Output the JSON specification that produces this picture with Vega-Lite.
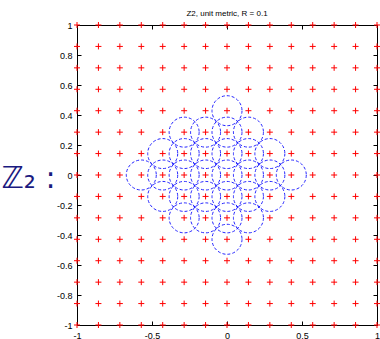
{
  "$schema": "https://vega.github.io/schema/vega-lite/v6.json",
  "width": 300,
  "height": 300,
  "autosize": "none",
  "padding": {"left": 77, "top": 25, "right": 3, "bottom": 14},
  "title": {"text": "Z2, unit metric, R = 0.1", "fontSize": 8, "fontWeight": "normal", "font": "Liberation Sans", "color": "#000000", "offset": 2},
  "config": {
    "view": {"stroke": "#000000", "strokeWidth": 1},
    "axis": {"domainColor": "#000000", "tickColor": "#000000", "labelColor": "#000000", "labelFont": "Liberation Sans", "labelFontSize": 9, "grid": false, "tickSize": -4, "labelExpr": "datum.value + ''"}
  },
  "datasets": {
    "grid": [
      {"x":-1,"y":1},{"x":-0.8571,"y":1},{"x":-0.7143,"y":1},{"x":-0.5714,"y":1},{"x":-0.4286,"y":1},{"x":-0.2857,"y":1},{"x":-0.1429,"y":1},{"x":0,"y":1},{"x":0.1429,"y":1},{"x":0.2857,"y":1},{"x":0.4286,"y":1},{"x":0.5714,"y":1},{"x":0.7143,"y":1},{"x":0.8571,"y":1},{"x":1,"y":1},
      {"x":-1,"y":0.8571},{"x":-0.8571,"y":0.8571},{"x":-0.7143,"y":0.8571},{"x":-0.5714,"y":0.8571},{"x":-0.4286,"y":0.8571},{"x":-0.2857,"y":0.8571},{"x":-0.1429,"y":0.8571},{"x":0,"y":0.8571},{"x":0.1429,"y":0.8571},{"x":0.2857,"y":0.8571},{"x":0.4286,"y":0.8571},{"x":0.5714,"y":0.8571},{"x":0.7143,"y":0.8571},{"x":0.8571,"y":0.8571},{"x":1,"y":0.8571},
      {"x":-1,"y":0.7143},{"x":-0.8571,"y":0.7143},{"x":-0.7143,"y":0.7143},{"x":-0.5714,"y":0.7143},{"x":-0.4286,"y":0.7143},{"x":-0.2857,"y":0.7143},{"x":-0.1429,"y":0.7143},{"x":0,"y":0.7143},{"x":0.1429,"y":0.7143},{"x":0.2857,"y":0.7143},{"x":0.4286,"y":0.7143},{"x":0.5714,"y":0.7143},{"x":0.7143,"y":0.7143},{"x":0.8571,"y":0.7143},{"x":1,"y":0.7143},
      {"x":-1,"y":0.5714},{"x":-0.8571,"y":0.5714},{"x":-0.7143,"y":0.5714},{"x":-0.5714,"y":0.5714},{"x":-0.4286,"y":0.5714},{"x":-0.2857,"y":0.5714},{"x":-0.1429,"y":0.5714},{"x":0,"y":0.5714},{"x":0.1429,"y":0.5714},{"x":0.2857,"y":0.5714},{"x":0.4286,"y":0.5714},{"x":0.5714,"y":0.5714},{"x":0.7143,"y":0.5714},{"x":0.8571,"y":0.5714},{"x":1,"y":0.5714},
      {"x":-1,"y":0.4286},{"x":-0.8571,"y":0.4286},{"x":-0.7143,"y":0.4286},{"x":-0.5714,"y":0.4286},{"x":-0.4286,"y":0.4286},{"x":-0.2857,"y":0.4286},{"x":-0.1429,"y":0.4286},{"x":0,"y":0.4286},{"x":0.1429,"y":0.4286},{"x":0.2857,"y":0.4286},{"x":0.4286,"y":0.4286},{"x":0.5714,"y":0.4286},{"x":0.7143,"y":0.4286},{"x":0.8571,"y":0.4286},{"x":1,"y":0.4286},
      {"x":-1,"y":0.2857},{"x":-0.8571,"y":0.2857},{"x":-0.7143,"y":0.2857},{"x":-0.5714,"y":0.2857},{"x":-0.4286,"y":0.2857},{"x":-0.2857,"y":0.2857},{"x":-0.1429,"y":0.2857},{"x":0,"y":0.2857},{"x":0.1429,"y":0.2857},{"x":0.2857,"y":0.2857},{"x":0.4286,"y":0.2857},{"x":0.5714,"y":0.2857},{"x":0.7143,"y":0.2857},{"x":0.8571,"y":0.2857},{"x":1,"y":0.2857},
      {"x":-1,"y":0.1429},{"x":-0.8571,"y":0.1429},{"x":-0.7143,"y":0.1429},{"x":-0.5714,"y":0.1429},{"x":-0.4286,"y":0.1429},{"x":-0.2857,"y":0.1429},{"x":-0.1429,"y":0.1429},{"x":0,"y":0.1429},{"x":0.1429,"y":0.1429},{"x":0.2857,"y":0.1429},{"x":0.4286,"y":0.1429},{"x":0.5714,"y":0.1429},{"x":0.7143,"y":0.1429},{"x":0.8571,"y":0.1429},{"x":1,"y":0.1429},
      {"x":-1,"y":0},{"x":-0.8571,"y":0},{"x":-0.7143,"y":0},{"x":-0.5714,"y":0},{"x":-0.4286,"y":0},{"x":-0.2857,"y":0},{"x":-0.1429,"y":0},{"x":0,"y":0},{"x":0.1429,"y":0},{"x":0.2857,"y":0},{"x":0.4286,"y":0},{"x":0.5714,"y":0},{"x":0.7143,"y":0},{"x":0.8571,"y":0},{"x":1,"y":0},
      {"x":-1,"y":-0.1429},{"x":-0.8571,"y":-0.1429},{"x":-0.7143,"y":-0.1429},{"x":-0.5714,"y":-0.1429},{"x":-0.4286,"y":-0.1429},{"x":-0.2857,"y":-0.1429},{"x":-0.1429,"y":-0.1429},{"x":0,"y":-0.1429},{"x":0.1429,"y":-0.1429},{"x":0.2857,"y":-0.1429},{"x":0.4286,"y":-0.1429},{"x":0.5714,"y":-0.1429},{"x":0.7143,"y":-0.1429},{"x":0.8571,"y":-0.1429},{"x":1,"y":-0.1429},
      {"x":-1,"y":-0.2857},{"x":-0.8571,"y":-0.2857},{"x":-0.7143,"y":-0.2857},{"x":-0.5714,"y":-0.2857},{"x":-0.4286,"y":-0.2857},{"x":-0.2857,"y":-0.2857},{"x":-0.1429,"y":-0.2857},{"x":0,"y":-0.2857},{"x":0.1429,"y":-0.2857},{"x":0.2857,"y":-0.2857},{"x":0.4286,"y":-0.2857},{"x":0.5714,"y":-0.2857},{"x":0.7143,"y":-0.2857},{"x":0.8571,"y":-0.2857},{"x":1,"y":-0.2857},
      {"x":-1,"y":-0.4286},{"x":-0.8571,"y":-0.4286},{"x":-0.7143,"y":-0.4286},{"x":-0.5714,"y":-0.4286},{"x":-0.4286,"y":-0.4286},{"x":-0.2857,"y":-0.4286},{"x":-0.1429,"y":-0.4286},{"x":0,"y":-0.4286},{"x":0.1429,"y":-0.4286},{"x":0.2857,"y":-0.4286},{"x":0.4286,"y":-0.4286},{"x":0.5714,"y":-0.4286},{"x":0.7143,"y":-0.4286},{"x":0.8571,"y":-0.4286},{"x":1,"y":-0.4286},
      {"x":-1,"y":-0.5714},{"x":-0.8571,"y":-0.5714},{"x":-0.7143,"y":-0.5714},{"x":-0.5714,"y":-0.5714},{"x":-0.4286,"y":-0.5714},{"x":-0.2857,"y":-0.5714},{"x":-0.1429,"y":-0.5714},{"x":0,"y":-0.5714},{"x":0.1429,"y":-0.5714},{"x":0.2857,"y":-0.5714},{"x":0.4286,"y":-0.5714},{"x":0.5714,"y":-0.5714},{"x":0.7143,"y":-0.5714},{"x":0.8571,"y":-0.5714},{"x":1,"y":-0.5714},
      {"x":-1,"y":-0.7143},{"x":-0.8571,"y":-0.7143},{"x":-0.7143,"y":-0.7143},{"x":-0.5714,"y":-0.7143},{"x":-0.4286,"y":-0.7143},{"x":-0.2857,"y":-0.7143},{"x":-0.1429,"y":-0.7143},{"x":0,"y":-0.7143},{"x":0.1429,"y":-0.7143},{"x":0.2857,"y":-0.7143},{"x":0.4286,"y":-0.7143},{"x":0.5714,"y":-0.7143},{"x":0.7143,"y":-0.7143},{"x":0.8571,"y":-0.7143},{"x":1,"y":-0.7143},
      {"x":-1,"y":-0.8571},{"x":-0.8571,"y":-0.8571},{"x":-0.7143,"y":-0.8571},{"x":-0.5714,"y":-0.8571},{"x":-0.4286,"y":-0.8571},{"x":-0.2857,"y":-0.8571},{"x":-0.1429,"y":-0.8571},{"x":0,"y":-0.8571},{"x":0.1429,"y":-0.8571},{"x":0.2857,"y":-0.8571},{"x":0.4286,"y":-0.8571},{"x":0.5714,"y":-0.8571},{"x":0.7143,"y":-0.8571},{"x":0.8571,"y":-0.8571},{"x":1,"y":-0.8571},
      {"x":-1,"y":-1},{"x":-0.8571,"y":-1},{"x":-0.7143,"y":-1},{"x":-0.5714,"y":-1},{"x":-0.4286,"y":-1},{"x":-0.2857,"y":-1},{"x":-0.1429,"y":-1},{"x":0,"y":-1},{"x":0.1429,"y":-1},{"x":0.2857,"y":-1},{"x":0.4286,"y":-1},{"x":0.5714,"y":-1},{"x":0.7143,"y":-1},{"x":0.8571,"y":-1},{"x":1,"y":-1}
    ],
    "centers": [
      {"x":0,"y":0.4286},
      {"x":-0.2857,"y":0.2857},{"x":-0.1429,"y":0.2857},{"x":0,"y":0.2857},{"x":0.1429,"y":0.2857},
      {"x":-0.4286,"y":0.1429},{"x":-0.2857,"y":0.1429},{"x":-0.1429,"y":0.1429},{"x":0,"y":0.1429},{"x":0.1429,"y":0.1429},{"x":0.2857,"y":0.1429},
      {"x":-0.5714,"y":0},{"x":-0.4286,"y":0},{"x":-0.2857,"y":0},{"x":-0.1429,"y":0},{"x":0,"y":0},{"x":0.1429,"y":0},{"x":0.2857,"y":0},{"x":0.4286,"y":0},
      {"x":-0.4286,"y":-0.1429},{"x":-0.2857,"y":-0.1429},{"x":-0.1429,"y":-0.1429},{"x":0,"y":-0.1429},{"x":0.1429,"y":-0.1429},{"x":0.2857,"y":-0.1429},
      {"x":-0.2857,"y":-0.2857},{"x":-0.1429,"y":-0.2857},{"x":0,"y":-0.2857},{"x":0.1429,"y":-0.2857},
      {"x":0,"y":-0.4286}
    ]
  },
  "layer": [
    {
      "data": {"name": "grid"},
      "mark": {"type": "point", "shape": "M-1,0L1,0M0,-1L0,1", "filled": false, "stroke": "#ff0000", "strokeWidth": 1, "size": 36, "opacity": 1},
      "encoding": {
        "x": {"field": "x", "type": "quantitative", "scale": {"domain": [-1, 1], "nice": false, "zero": false},
              "axis": {"orient": "bottom", "values": [-1, -0.5, 0, 0.5, 1], "title": null, "labelPadding": 10, "labelFlush": false}},
        "y": {"field": "y", "type": "quantitative", "scale": {"domain": [-1, 1], "nice": false, "zero": false},
              "axis": {"orient": "left", "values": [-1, -0.8, -0.6, -0.4, -0.2, 0, 0.2, 0.4, 0.6, 0.8, 1], "labelPadding": 9, "labelFlush": false,
                       "title": "ℤ₂ :", "titleAngle": 0, "titleAlign": "right", "titleBaseline": "alphabetic", "titleX": -22, "titleY": 162,
                       "titleFont": "DejaVu Sans", "titleFontSize": 30, "titleFontWeight": "normal", "titleColor": "#1a1a80"}}
      }
    },
    {
      "data": {"name": "centers"},
      "mark": {"type": "point", "shape": "circle", "filled": false, "stroke": "#0000ff", "strokeWidth": 1, "strokeDash": [3, 2], "size": 900, "opacity": 0.85},
      "encoding": {
        "x": {"field": "x", "type": "quantitative", "axis": {"orient": "top", "values": [-1, -0.5, 0, 0.5, 1], "labels": false, "title": null}},
        "y": {"field": "y", "type": "quantitative", "axis": {"orient": "right", "values": [-1, -0.8, -0.6, -0.4, -0.2, 0, 0.2, 0.4, 0.6, 0.8, 1], "labels": false, "title": null}}
      }
    }
  ],
  "resolve": {"axis": {"x": "independent", "y": "independent"}}
}
